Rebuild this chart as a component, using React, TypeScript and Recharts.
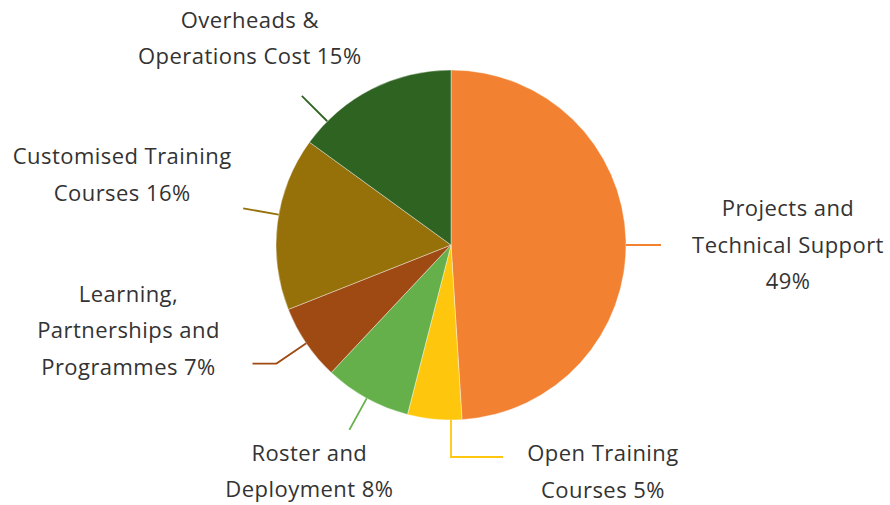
import React from 'react';
import { PieChart, Pie, Cell } from 'recharts';

const categories = [
  'Projects and Technical Support',
  'Open Training Courses',
  'Roster and Deployment',
  'Learning, Partnerships and Programmes',
  'Customised Training Courses',
  'Overheads & Operations Cost',
];
const shares = [49, 5, 8, 7, 16, 15];
const labelTexts = [
  ['Projects and', 'Technical Support', '{p}'],
  ['Open Training', 'Courses {p}'],
  ['Roster and', 'Deployment {p}'],
  ['Learning,', 'Partnerships and', 'Programmes {p}'],
  ['Customised Training', 'Courses {p}'],
  ['Overheads &', 'Operations Cost {p}'],
];
const colors = ['#F28232', '#FEC70D', '#65B04B', '#A04A13', '#96710A', '#2F6321'];

const data = categories.map((name, i) => ({ name, value: shares[i] }));

// leader-line / label layout (styling): angle override, radial extension, horizontal elbow, text offset
const layout = [
  { angle: 0, ext: 35, h: 0, tdx: 127, tdy: -29 },
  { angle: -90, ext: 37, h: 52, tdx: 100, tdy: 4 },
  { angle: null, ext: 36, h: 0, tdx: -40, tdy: 31 },
  { angle: null, ext: 36, h: -24, tdx: -124, tdy: -62 },
  { angle: 170, ext: 36, h: 0, tdx: -121, tdy: -44 },
  { angle: 135, ext: 36, h: 0, tdx: -52, tdy: -68 },
];

const RAD = Math.PI / 180;
const LINE_H = 36.5;

const renderLabel = (props: any) => {
  const { cx, cy, midAngle, outerRadius, index, value } = props;
  const cfg = layout[index];
  const a = cfg.angle === null ? midAngle : cfg.angle;
  const c = Math.cos(-a * RAD);
  const s = Math.sin(-a * RAD);
  const x0 = cx + outerRadius * c;
  const y0 = cy + outerRadius * s;
  const x1 = cx + (outerRadius + cfg.ext) * c;
  const y1 = cy + (outerRadius + cfg.ext) * s;
  const x2 = x1 + cfg.h;
  const y2 = y1;
  const color = colors[index];
  const lines = labelTexts[index].map((t) => t.replace('{p}', `${value}%`));
  return (
    <g key={`lbl-${index}`}>
      <polyline
        points={`${x0},${y0} ${x1},${y1} ${x2},${y2}`}
        fill="none"
        stroke={color}
        strokeWidth={1.8}
      />
      <text
        x={x2 + cfg.tdx}
        y={y2 + cfg.tdy}
        textAnchor="middle"
        fill="#333333"
        fontFamily="'Open Sans', sans-serif"
        fontSize={22}
        letterSpacing={0.45}
      >
        {lines.map((l, i) => (
          <tspan key={i} x={x2 + cfg.tdx} y={y2 + cfg.tdy + i * LINE_H}>
            {l}
          </tspan>
        ))}
      </text>
    </g>
  );
};

export default function App() {
  return (
    <div style={{ position: 'absolute', left: 0, top: 0, width: 890, height: 505, background: '#fff' }}>
      <PieChart width={890} height={505} margin={{ top: 0, right: 0, bottom: 0, left: 0 }}>
        <Pie
          data={data}
          dataKey="value"
          nameKey="name"
          cx={451}
          cy={245}
          outerRadius={175}
          startAngle={90}
          endAngle={-270}
          stroke="#ffffff"
          strokeWidth={0.4}
          label={renderLabel}
          labelLine={false}
          isAnimationActive={false}
        >
          {data.map((d, i) => (
            <Cell key={d.name} fill={colors[i]} />
          ))}
        </Pie>
      </PieChart>
    </div>
  );
}
